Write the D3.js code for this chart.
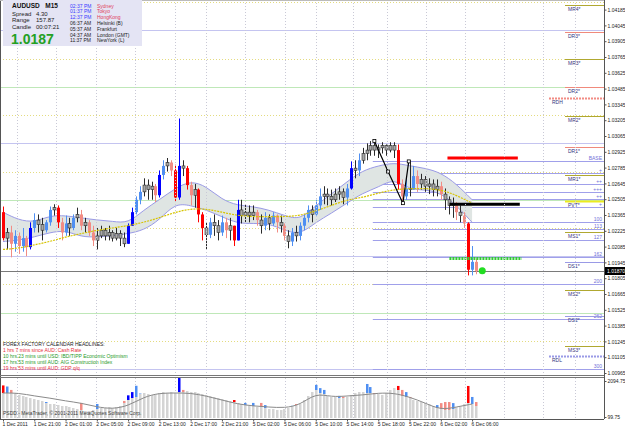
<!DOCTYPE html>
<html>
<head>
<meta charset="utf-8">
<script src="https://cdn.jsdelivr.net/npm/d3@7"></script>
<style>
  body { margin: 0; background: #fff; }
  svg { display: block; }
  text { font-family: "Liberation Sans", Arial, sans-serif; }
</style>
</head>
<body>
<svg width="625" height="429"></svg>
<script>
// ---- data ----
var timeLabels = ["1 Dec 2011", "1 Dec 21:00", "2 Dec 01:00", "2 Dec 05:00", "2 Dec 09:00", "2 Dec 13:00",
    "2 Dec 17:00", "2 Dec 21:00", "5 Dec 02:00", "5 Dec 06:00", "5 Dec 10:00", "5 Dec 14:00",
    "5 Dec 18:00", "5 Dec 22:00", "6 Dec 02:00", "6 Dec 06:00"];

var priceTicks = [1.04185, 1.04045, 1.03905, 1.03765, 1.03625, 1.03485, 1.03345, 1.03205, 1.03065,
    1.02925, 1.02785, 1.02645, 1.02505, 1.02365, 1.02225, 1.02085, 1.01945, 1.01805, 1.01665,
    1.01525, 1.01385, 1.01245, 1.01105, 1.00965];
var volTicks = [2094.75, 99.75];
var lastPrice = 1.0187;

var firstOpen = 1.0239;
var closes = [1.0216, 1.0221, 1.0211, 1.0218, 1.0209, 1.0216, 1.0208, 1.0225, 1.0232, 1.0228,
    1.0223, 1.0230, 1.0241, 1.0243, 1.0230, 1.0221, 1.0229, 1.0225, 1.0234, 1.0237,
    1.0227, 1.0230, 1.0221, 1.0214, 1.0218, 1.0223, 1.0218, 1.0221, 1.0216, 1.0220,
    1.0216, 1.0211, 1.0227, 1.0239, 1.0250, 1.0257, 1.0263, 1.0259, 1.0262, 1.0254,
    1.0272, 1.0280, 1.0283, 1.0276, 1.0252, 1.0280, 1.0278, 1.0263, 1.0254, 1.0259,
    1.0237, 1.0225, 1.0219, 1.0230, 1.0227, 1.0221, 1.0230, 1.0223, 1.0227, 1.0214,
    1.0241, 1.0236, 1.0239, 1.0236, 1.0239, 1.0232, 1.0227, 1.0234, 1.0229, 1.0236,
    1.0230, 1.0227, 1.0218, 1.0213, 1.0221, 1.0218, 1.0227, 1.0234, 1.0241, 1.0237,
    1.0245, 1.0253, 1.0255, 1.0253, 1.0250, 1.0255, 1.0257, 1.0252, 1.0260, 1.0278,
    1.0276, 1.0285, 1.0291, 1.0294, 1.0298, 1.0294, 1.0296, 1.0298, 1.0294, 1.0298,
    1.0294, 1.0264, 1.0253, 1.0260, 1.0259, 1.0271, 1.0264, 1.0268, 1.0262, 1.0264,
    1.0259, 1.0262, 1.0255, 1.0250, 1.0245, 1.0246, 1.0239, 1.0236, 1.0229, 1.0188,
    1.0195, 1.0187];
var highs = [1.0244, 1.0225, 1.0227, 1.0223, 1.0221, 1.0225, 1.0218, 1.0230, 1.0238, 1.0237,
    1.0234, 1.0232, 1.0244, 1.0246, 1.0245, 1.0234, 1.0236, 1.0234, 1.0237, 1.0243,
    1.0241, 1.0234, 1.0232, 1.0227, 1.0225, 1.0227, 1.0225, 1.0227, 1.0223, 1.0225,
    1.0223, 1.0221, 1.0229, 1.0243, 1.0253, 1.0262, 1.0269, 1.0268, 1.0266, 1.0264,
    1.0276, 1.0285, 1.0287, 1.0285, 1.0281, 1.0322, 1.0285, 1.0280, 1.0266, 1.0264,
    1.0260, 1.0239, 1.0230, 1.0234, 1.0237, 1.0232, 1.0236, 1.0234, 1.0234, 1.0227,
    1.0250, 1.0250, 1.0246, 1.0245, 1.0245, 1.0241, 1.0237, 1.0239, 1.0237, 1.0239,
    1.0237, 1.0236, 1.0229, 1.0223, 1.0225, 1.0227, 1.0230, 1.0237, 1.0245, 1.0245,
    1.0250, 1.0260, 1.0262, 1.0260, 1.0259, 1.0260, 1.0262, 1.0260, 1.0264, 1.0284,
    1.0285, 1.0291, 1.0296, 1.0300, 1.0302, 1.0302, 1.0299, 1.0301, 1.0299, 1.0301,
    1.0301, 1.0299, 1.0268, 1.0271, 1.0285, 1.0280, 1.0276, 1.0273, 1.0271, 1.0269,
    1.0268, 1.0268, 1.0266, 1.0260, 1.0253, 1.0252, 1.0248, 1.0245, 1.0239, 1.0230,
    1.0209, 1.0198];
var lows = [1.0214, 1.0206, 1.0199, 1.0204, 1.0202, 1.0204, 1.0200, 1.0206, 1.0221, 1.0221,
    1.0214, 1.0221, 1.0227, 1.0236, 1.0225, 1.0214, 1.0218, 1.0218, 1.0223, 1.0230,
    1.0223, 1.0221, 1.0218, 1.0209, 1.0206, 1.0216, 1.0214, 1.0214, 1.0213, 1.0214,
    1.0209, 1.0208, 1.0211, 1.0227, 1.0237, 1.0246, 1.0253, 1.0250, 1.0250, 1.0248,
    1.0252, 1.0268, 1.0275, 1.0271, 1.0248, 1.0250, 1.0271, 1.0259, 1.0245, 1.0243,
    1.0230, 1.0214, 1.0206, 1.0216, 1.0218, 1.0214, 1.0218, 1.0216, 1.0214, 1.0209,
    1.0214, 1.0229, 1.0230, 1.0230, 1.0232, 1.0227, 1.0220, 1.0223, 1.0223, 1.0227,
    1.0221, 1.0221, 1.0214, 1.0207, 1.0209, 1.0213, 1.0214, 1.0223, 1.0230, 1.0230,
    1.0236, 1.0241, 1.0246, 1.0245, 1.0245, 1.0248, 1.0250, 1.0246, 1.0245, 1.0259,
    1.0269, 1.0271, 1.0282, 1.0285, 1.0289, 1.0289, 1.0287, 1.0291, 1.0289, 1.0292,
    1.0287, 1.0259, 1.0246, 1.0250, 1.0253, 1.0259, 1.0257, 1.0259, 1.0257, 1.0255,
    1.0253, 1.0253, 1.0250, 1.0241, 1.0237, 1.0234, 1.0232, 1.0230, 1.0225, 1.0183,
    1.0183, 1.0184];

// envelope band and slow average, one value every 4 bars
var bandUpper = [1.0239, 1.0232, 1.0230, 1.0236, 1.0236, 1.0234, 1.0232, 1.0231, 1.0229, 1.0241, 1.0250,
    1.0260, 1.0267, 1.0262, 1.0250, 1.0245, 1.0244, 1.0241, 1.0236, 1.0232, 1.0245, 1.0255,
    1.0266, 1.0276, 1.0280, 1.0283, 1.0280, 1.0278, 1.0274, 1.0264, 1.0250];
var bandLower = [1.0213, 1.0214, 1.0217, 1.0221, 1.0223, 1.0217, 1.0217, 1.0218, 1.0220, 1.0223, 1.0232,
    1.0247, 1.0245, 1.0241, 1.0235, 1.0229, 1.0229, 1.0229, 1.0223, 1.0219, 1.0230, 1.0238,
    1.0247, 1.0256, 1.0261, 1.0269, 1.0259, 1.0259, 1.0256, 1.0245, 1.0230];
var maSlow = [1.0206, 1.0207, 1.0210, 1.0213, 1.0217, 1.0220, 1.0223, 1.0225, 1.0227, 1.0230, 1.0234,
    1.0239, 1.0242, 1.0242, 1.0239, 1.0236, 1.0235, 1.0235, 1.0235, 1.0236, 1.0240, 1.0245,
    1.0250, 1.0252, 1.0256, 1.0259, 1.0260, 1.0260, 1.0259, 1.0254, 1.0247];

// volume window
var volumes = [1429, 1429, 1429, 1429, 1318, 1263, 1208, 1152, 1097, 1042,
    986, 875, 820, 820, 765, 709, 709, 654, 598, 543,
    488, 432, 432, 488, 543, 598, 598, 654, 598, 654,
    709, 875, 1042, 1152, 1208, 1374, 1429, 1374, 1318, 1374,
    1429, 1485, 1429, 1485, 1429, 1485, 1485, 1540, 1485, 1485,
    1429, 1374, 1318, 1263, 1208, 1152, 1097, 1042, 986, 931,
    875, 820, 765, 709, 709, 654, 654, 598, 543, 543,
    488, 488, 543, 598, 709, 765, 820, 1042, 1263, 1485,
    1596, 1429, 1374, 1263, 1208, 1208, 1152, 1152, 1208, 1318,
    1429, 1485, 1485, 1429, 1429, 1374, 1374, 1318, 1429, 1596,
    1706, 1596, 1263, 1208, 1152, 1042, 986, 931, 875, 820,
    709, 598, 543, 488, 488, 543, 654, 709, 820, 875,
    820, 709];
var volSpikeBars = [0, 1, 2, 11, 20, 24, 27, 31, 32, 33, 34, 35, 41, 43, 45, 46, 59, 62, 64, 66, 67,
    74, 75, 78, 79, 80, 81, 82, 86, 87, 89, 93, 94, 95, 101, 102, 103, 104, 111, 112, 113,
    114, 115, 119, 120, 121];
var volSpikeValues = [1850, 1790, 1600, 930, 880, 820, 650, 990, 1300, 1480, 1830, 1400, 1210, 1420, 2260,
    1600, 1040, 880, 880, 880, 760, 720, 820, 1120, 1430, 1880, 1700, 1600, 1270, 1220, 1210,
    1930, 1760, 1430, 1820, 1600, 1480, 1210, 760, 870, 930, 930, 870, 1820, 1210, 930];
var volMa = [1429, 1429, 1263, 1152, 986, 875, 654, 543, 709, 1208, 1429, 1429, 1429, 1263, 1042, 820,
    709, 654, 598, 765, 1429, 1208, 1263, 1318, 1429, 1429, 1208, 875, 488, 654, 820];

// level lines
var roundLevels = [1.0425, 1.0400, 1.0375, 1.0350, 1.0325, 1.0300, 1.0275, 1.0250, 1.0225, 1.0200,
    1.0175, 1.0150, 1.0125, 1.0100];
var pivotNames = ["MR4*", "DR3*", "MR3*", "DR2*", "RDH", "MR2*", "DR1*", "MR1*", "PVT*", "MS1*",
    "DS1*", "MS2*", "DS2*", "MS3*", "RDL"];
var pivotPrices = [1.0423, 1.0399, 1.0375, 1.0350, 1.0340, 1.0324, 1.0297, 1.0272, 1.0249, 1.0221,
    1.0195, 1.0170, 1.0147, 1.0120, 1.0112];
var fibNames = ["BASE", "+", "++", "+++", "++", "+", "100", "113", "127", "162", "200", "262", "300"];
var fibPrices = [1.0284, 1.0274, 1.0264, 1.0257, 1.0251, 1.0244, 1.0230, 1.0224, 1.0214, 1.0199,
    1.0175, 1.0144, 1.0100];
var fibStartBar = 94.6;

var zigBars = [95, 98.5, 102.3, 103.8];
var zigPrices = [1.0302, 1.0275, 1.0247, 1.0284];

var gridBars = [3.6, 13.6, 23.8, 33.8, 44, 51.9, 61.9, 72.1, 80, 89.5, 98.2, 108.2, 118.2, 128.1, 138.1, 146.3];

var infoLeft = ["Spread", "Range", "Candle"];
var infoLeftVal = ["4.30", "157.87", "00:07:21"];
var clockTimes = ["02:37 PM", "01:37 PM", "12:37 PM", "06:37 AM", "05:37 AM", "04:37 AM", "11:37 PM"];
var clockCities = ["Sydney", "Tokyo", "HongKong", "Helsinki (B)", "Frankfurt", "London (GMT)", "NewYork (L)"];
var headlines = ["1 hrs 7 mins since AUD: Cash Rate",
    "10 hrs 23 mins until USD: IBD/TIPP Economic Optimism",
    "17 hrs 53 mins until AUD: AIG Construction Index",
    "19 hrs 53 mins until AUD: GDP q/q"];
var headlinePast = [true, false, false, true];

// ---- layout ----
var svg = d3.select("svg"),
    right = 604,
    mainBottom = 375,
    volTop = 377,
    volBottom = 419;

var x = d3.scaleLinear().domain([0, 121]).range([3, 476]);
var y = d3.scaleLinear().domain([1.00965, 1.04185]).range([373, 9.6]);
var yv = d3.scaleLinear().domain([99.75, 2094.75]).range([417, 381]);

var bars = closes.map(function (c, i) {
    var o = i ? closes[i - 1] : firstOpen;
    return { i: i, o: o, c: c, h: Math.max(highs[i], o, c), l: Math.min(lows[i], o, c) };
});

function barColor(d) {
    var body = d.c - d.o;
    if (body >= 0.0012) return "#0000ff";
    if (body >= 0.0006) return "#4f8ff2";
    if (body <= -0.0012) return "#ff0000";
    if (body <= -0.0006) return "#f28c84";
    return null;
}

svg.append("clipPath").attr("id", "main-clip")
    .append("rect").attr("x", 0).attr("y", 0).attr("width", right).attr("height", mainBottom);

var main = svg.append("g").attr("clip-path", "url(#main-clip)");

// vertical grid
svg.append("g").selectAll("line")
    .data(gridBars)
    .enter().append("line")
    .attr("x1", function (d) { return Math.round(x(d)) + 0.5; })
    .attr("x2", function (d) { return Math.round(x(d)) + 0.5; })
    .attr("y1", 0).attr("y2", volBottom)
    .attr("stroke", "#c9c9d6")
    .attr("stroke-dasharray", "1,2");

// round number lines
main.append("g").selectAll("line")
    .data(roundLevels)
    .enter().append("line")
    .attr("x1", 0).attr("x2", right)
    .attr("y1", function (d) { return Math.round(y(d)) + 0.5; })
    .attr("y2", function (d) { return Math.round(y(d)) + 0.5; })
    .attr("stroke", function (d) {
        var r = Math.round(d * 10000) % 100;
        return r === 0 ? "#c4c4f0" : r === 50 ? "#bfe8b8" : "#e4dc80";
    })
    .attr("stroke-dasharray", function (d) {
        var r = Math.round(d * 10000) % 100;
        return (r === 0 || r === 50) ? null : "1,2";
    });

// fib lines
var fib = main.append("g");
fib.selectAll("line")
    .data(fibPrices)
    .enter().append("line")
    .attr("x1", x(fibStartBar)).attr("x2", right)
    .attr("y1", function (d) { return Math.round(y(d)) + 0.5; })
    .attr("y2", function (d) { return Math.round(y(d)) + 0.5; })
    .attr("stroke", "#a0a0ea");
fib.selectAll("text")
    .data(fibPrices)
    .enter().append("text")
    .attr("x", right - 2)
    .attr("y", function (d) { return Math.round(y(d)) - 1; })
    .attr("text-anchor", "end")
    .attr("font-size", 5)
    .attr("fill", "#7070d8")
    .text(function (d, i) { return fibNames[i]; });

// envelope band
var bandData = bandUpper.map(function (u, k) { return { i: k * 4, u: u, l: bandLower[k], m: maSlow[k] }; });
main.append("path")
    .datum(bandData)
    .attr("fill", "#dfe5e3")
    .attr("d", d3.area().curve(d3.curveBasis)
        .x(function (d) { return x(d.i); })
        .y0(function (d) { return y(d.l); })
        .y1(function (d) { return y(d.u); }));
["u", "l"].forEach(function (k) {
    main.append("path")
        .datum(bandData)
        .attr("fill", "none")
        .attr("stroke", "#9a9ae6")
        .attr("d", d3.line().curve(d3.curveBasis)
            .x(function (d) { return x(d.i); })
            .y(function (d) { return y(d[k]); }));
});

// last price line
main.append("line")
    .attr("x1", 0).attr("x2", right)
    .attr("y1", Math.round(y(lastPrice)) + 0.5).attr("y2", Math.round(y(lastPrice)) + 0.5)
    .attr("stroke", "#7a7a7a");

// candles
var candles = main.append("g").selectAll("g")
    .data(bars)
    .enter().append("g");
candles.append("line")
    .attr("x1", function (d) { return Math.round(x(d.i)) + 0.5; })
    .attr("x2", function (d) { return Math.round(x(d.i)) + 0.5; })
    .attr("y1", function (d) { return y(d.h); })
    .attr("y2", function (d) { return y(d.l); })
    .attr("stroke", function (d) { return barColor(d) || "#2a2a2a"; });
candles.append("rect")
    .attr("x", function (d) { return Math.round(x(d.i)) - 1; })
    .attr("width", 3)
    .attr("y", function (d) { return y(Math.max(d.o, d.c)); })
    .attr("height", function (d) { return Math.max(1, Math.abs(y(d.o) - y(d.c))); })
    .attr("fill", function (d) { return barColor(d) || "#a8a8a8"; })
    .attr("stroke", function (d) { return barColor(d) ? null : "#2a2a2a"; })
    .attr("stroke-width", 0.6);

// slow average
main.append("path")
    .datum(bandData)
    .attr("fill", "none")
    .attr("stroke", "#d6c400")
    .attr("stroke-width", 1.2)
    .attr("stroke-dasharray", "2,1")
    .attr("d", d3.line().curve(d3.curveBasis)
        .x(function (d) { return x(d.i); })
        .y(function (d) { return y(d.m); }));

// session lines
var sessionLines = [
    { p: 1.0287, a: 113.7, b: 131.7, c: "#ff0000", dash: null },
    { p: 1.0246, a: 114.2, b: 132.2, c: "#000000", dash: null },
    { p: 1.0198, a: 114.2, b: 132.7, c: "#33cc33", dash: "2,1" }
];
main.append("g").selectAll("line")
    .data(sessionLines)
    .enter().append("line")
    .attr("x1", function (d) { return x(d.a); })
    .attr("x2", function (d) { return x(d.b); })
    .attr("y1", function (d) { return y(d.p); })
    .attr("y2", function (d) { return y(d.p); })
    .attr("stroke", function (d) { return d.c; })
    .attr("stroke-width", 3)
    .attr("stroke-dasharray", function (d) { return d.dash; });

// zigzag
var zig = zigBars.map(function (b, i) { return [x(b), y(zigPrices[i])]; });
main.append("path")
    .attr("d", d3.line()(zig))
    .attr("fill", "none")
    .attr("stroke", "#000")
    .attr("stroke-width", 1.2);
main.append("g").selectAll("rect")
    .data(zig)
    .enter().append("rect")
    .attr("x", function (d) { return d[0] - 1.5; })
    .attr("y", function (d) { return d[1] - 1.5; })
    .attr("width", 3).attr("height", 3)
    .attr("fill", "#fff")
    .attr("stroke", "#000")
    .attr("stroke-width", 0.8);

// current price marker
main.append("circle")
    .attr("cx", x(122.6)).attr("cy", y(lastPrice))
    .attr("r", 3.5)
    .attr("fill", "#22dd22");

// pivot levels
var pivots = main.append("g").selectAll("g")
    .data(pivotPrices)
    .enter().append("g");
function pivotStyle(name) {
    if (name === "RDH") return { c: "#f28c84", w: 2, dash: "2,1", x0: 549 };
    if (name === "RDL") return { c: "#9a9ae6", w: 2, dash: "2,1", x0: 549 };
    if (name === "PVT*") return { c: "#ecec20", w: 2, dash: null, x0: 565 };
    if (name.indexOf("DR") === 0) return { c: "#f08a7c", w: 1, dash: null, x0: 565 };
    if (name.indexOf("DS") === 0) return { c: "#9a9ae6", w: 1, dash: null, x0: 565 };
    return { c: "#b0a830", w: 1, dash: null, x0: 565 };
}
pivots.append("line")
    .attr("x1", function (d, i) { return pivotStyle(pivotNames[i]).x0; })
    .attr("x2", right)
    .attr("y1", function (d) { return Math.round(y(d)) + 0.5; })
    .attr("y2", function (d) { return Math.round(y(d)) + 0.5; })
    .attr("stroke", function (d, i) { return pivotStyle(pivotNames[i]).c; })
    .attr("stroke-width", function (d, i) { return pivotStyle(pivotNames[i]).w; })
    .attr("stroke-dasharray", function (d, i) { return pivotStyle(pivotNames[i]).dash; });
pivots.append("text")
    .attr("x", function (d, i) { return pivotStyle(pivotNames[i]).x0 + 3; })
    .attr("y", function (d) { return Math.round(y(d)) + 6; })
    .attr("font-size", 5)
    .attr("fill", "#34347e")
    .text(function (d, i) { return pivotNames[i]; });

// ---- volume window ----
var vol = svg.append("g");
vol.selectAll("rect.base")
    .data(volumes)
    .enter().append("rect")
    .attr("class", "base")
    .attr("x", function (d, i) { return Math.round(x(i)) - 1; })
    .attr("width", 2.5)
    .attr("y", function (d) { return yv(d); })
    .attr("height", function (d) { return yv(99.75) - yv(d) + 1; })
    .attr("fill", "#d4d4d4");
vol.selectAll("rect.spike")
    .data(volSpikeBars)
    .enter().append("rect")
    .attr("class", "spike")
    .attr("x", function (d) { return Math.round(x(d)) - 1; })
    .attr("width", 2.5)
    .attr("y", function (d, i) { return yv(volSpikeValues[i]); })
    .attr("height", function (d, i) { return yv(volumes[d]) - yv(volSpikeValues[i]); })
    .attr("fill", function (d) {
        var b = bars[d], c = barColor(b);
        if (c) return c;
        return b.c >= b.o ? "#4f8ff2" : "#f28c84";
    });
vol.append("path")
    .datum(volMa)
    .attr("fill", "none")
    .attr("stroke", "#8a8a8a")
    .attr("d", d3.line().curve(d3.curveBasis)
        .x(function (d, k) { return x(k * 4); })
        .y(function (d) { return yv(d); }));
vol.append("text")
    .attr("x", 3).attr("y", 415)
    .attr("font-size", 5)
    .attr("fill", "#3a3a3a")
    .text("PSDD - MetaTrader, \u00a9 2001-2011 MetaQuotes Software Corp.");

// ---- frames and axes ----
var frame = svg.append("g").attr("fill", "none");
frame.append("line").attr("x1", 0.5).attr("x2", 0.5).attr("y1", 0).attr("y2", volBottom).attr("stroke", "#555");
frame.append("line").attr("x1", right + 0.5).attr("x2", right + 0.5).attr("y1", 0).attr("y2", volBottom).attr("stroke", "#555");
frame.append("line").attr("x1", 0).attr("x2", right).attr("y1", mainBottom + 0.5).attr("y2", mainBottom + 0.5).attr("stroke", "#777");
frame.append("line").attr("x1", 0).attr("x2", right).attr("y1", volTop + 0.5).attr("y2", volTop + 0.5).attr("stroke", "#777");
frame.append("line").attr("x1", 0).attr("x2", right).attr("y1", volBottom + 0.5).attr("y2", volBottom + 0.5).attr("stroke", "#555");
frame.append("line").attr("x1", 0).attr("x2", right).attr("y1", 0.5).attr("y2", 0.5).attr("stroke", "#bbb");

var axisPrice = svg.append("g")
    .attr("transform", "translate(" + (right + 0.5) + ",0)")
    .call(d3.axisRight(y).tickValues(priceTicks).tickSize(2).tickPadding(1).tickFormat(d3.format(".5f")));
var axisVol = svg.append("g")
    .attr("transform", "translate(" + (right + 0.5) + ",0)")
    .call(d3.axisRight(yv).tickValues(volTicks).tickSize(2).tickPadding(1).tickFormat(d3.format(".2f")));
var axisTime = svg.append("g")
    .attr("transform", "translate(0," + (volBottom + 0.5) + ")")
    .call(d3.axisBottom(x).tickValues(d3.range(0, 121, 8)).tickSize(2).tickPadding(1)
        .tickFormat(function (d, i) { return timeLabels[i]; }));
axisTime.selectAll("text").attr("text-anchor", "start").attr("dx", -1);
[axisPrice, axisVol, axisTime].forEach(function (a) {
    a.select(".domain").remove();
    a.selectAll("text").attr("font-size", 5).attr("fill", "#222").attr("font-family", "Liberation Sans, Arial, sans-serif");
    a.selectAll("line").attr("stroke", "#555");
});

// last price tag
var tag = svg.append("g").attr("transform", "translate(" + (right + 1) + "," + Math.round(y(lastPrice)) + ")");
tag.append("rect").attr("x", 0).attr("y", -4).attr("width", 20).attr("height", 8).attr("fill", "#000");
tag.append("text").attr("x", 2).attr("y", 2).attr("font-size", 5).attr("fill", "#fff").text(d3.format(".5f")(lastPrice));

// ---- info panel ----
var info = svg.append("g");
info.append("rect").attr("x", 3).attr("y", 0).attr("width", 139).attr("height", 46).attr("fill", "#e4e4f4");
info.append("text").attr("x", 12).attr("y", 8).attr("font-size", 6.5).attr("font-weight", "bold").attr("fill", "#111")
    .attr("xml:space", "preserve").text("AUDUSD   M15");
info.selectAll("text.lbl")
    .data(infoLeft)
    .enter().append("text")
    .attr("class", "lbl")
    .attr("x", 12)
    .attr("y", function (d, i) { return 16 + i * 6.3; })
    .attr("font-size", 6)
    .attr("fill", "#222")
    .text(function (d) { return d; });
info.selectAll("text.val")
    .data(infoLeftVal)
    .enter().append("text")
    .attr("class", "val")
    .attr("x", 36)
    .attr("y", function (d, i) { return 16 + i * 6.3; })
    .attr("font-size", 6)
    .attr("fill", "#222")
    .text(function (d) { return d; });
info.append("text").attr("x", 11).attr("y", 44).attr("font-size", 14).attr("font-weight", "bold")
    .attr("fill", "#23a023").text(d3.format(".4f")(lastPrice));
info.selectAll("text.tm")
    .data(clockTimes)
    .enter().append("text")
    .attr("class", "tm")
    .attr("x", 70)
    .attr("y", function (d, i) { return 7.5 + i * 5.8; })
    .attr("font-size", 5)
    .attr("fill", function (d, i) { return i < 3 ? "#3a3aff" : "#222"; })
    .text(function (d) { return d; });
info.selectAll("text.city")
    .data(clockCities)
    .enter().append("text")
    .attr("class", "city")
    .attr("x", 97)
    .attr("y", function (d, i) { return 7.5 + i * 5.8; })
    .attr("font-size", 5)
    .attr("fill", function (d, i) { return i < 3 ? "#e0405c" : "#222"; })
    .text(function (d) { return d; });

// ---- headlines ----
var news = svg.append("g");
news.append("text").attr("x", 3).attr("y", 346).attr("font-size", 5).attr("fill", "#222")
    .text("FOREX FACTORY CALENDAR HEADLINES:");
news.selectAll("text.hl")
    .data(headlines)
    .enter().append("text")
    .attr("class", "hl")
    .attr("x", 3)
    .attr("y", function (d, i) { return 352 + i * 6; })
    .attr("font-size", 5)
    .attr("fill", function (d, i) { return headlinePast[i] ? "#e8303c" : "#2a9a2a"; })
    .text(function (d) { return d; });
</script>
</body>
</html>
